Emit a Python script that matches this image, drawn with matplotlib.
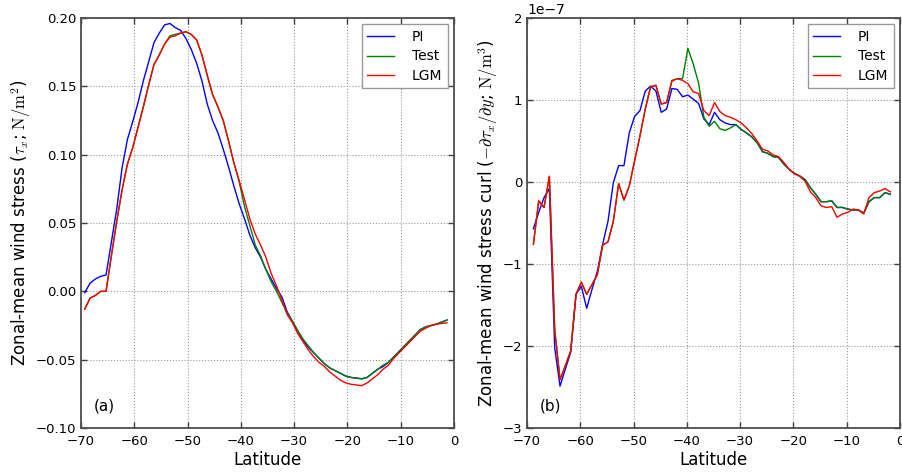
import numpy as np
import matplotlib
matplotlib.use("Agg")
import matplotlib.pyplot as plt

# ---------------- data ----------------
# latitude grid for wind stress (panel a) and curl (panel b, midpoints)
lat_a = np.arange(69) * 1.0 - 69.3
lat_b = np.arange(68) * 1.0 - 68.8

tau_pi = [-0.001, 0.006, 0.009, 0.011, 0.012, 0.036, 0.060, 0.090, 0.111, 0.124,
          0.138, 0.154, 0.168, 0.182, 0.189, 0.195, 0.196, 0.193, 0.191, 0.185,
          0.177, 0.167, 0.154, 0.137, 0.125, 0.116, 0.104, 0.091, 0.077, 0.064,
          0.053, 0.041, 0.032, 0.025, 0.016, 0.009, 0.002, -0.004, -0.015, -0.022,
          -0.029, -0.036, -0.041, -0.045, -0.049, -0.053, -0.056, -0.058, -0.060, -0.062,
          -0.063, -0.0635, -0.064, -0.063, -0.060, -0.057, -0.055, -0.052, -0.048, -0.044,
          -0.040, -0.036, -0.032, -0.028, -0.026, -0.025, -0.024, -0.0225, -0.021]

tau_test = [-0.013, -0.005, -0.003, 0.000, 0.000, 0.026, 0.051, 0.074, 0.093, 0.105,
            0.120, 0.135, 0.151, 0.166, 0.173, 0.181, 0.187, 0.188, 0.189, 0.190,
            0.188, 0.184, 0.173, 0.158, 0.144, 0.135, 0.125, 0.110, 0.094, 0.080,
            0.062, 0.048, 0.034, 0.026, 0.016, 0.007, 0.000, -0.008, -0.016, -0.022,
            -0.029, -0.035, -0.040, -0.045, -0.049, -0.053, -0.056, -0.058, -0.060, -0.062,
            -0.063, -0.0635, -0.064, -0.063, -0.060, -0.057, -0.054, -0.052, -0.048, -0.044,
            -0.040, -0.036, -0.032, -0.028, -0.026, -0.025, -0.024, -0.0225, -0.021]

tau_lgm = [-0.013, -0.005, -0.003, 0.000, 0.000, 0.026, 0.051, 0.074, 0.093, 0.105,
           0.120, 0.135, 0.151, 0.166, 0.173, 0.181, 0.186, 0.187, 0.189, 0.190,
           0.188, 0.184, 0.173, 0.158, 0.144, 0.135, 0.125, 0.110, 0.094, 0.081,
           0.067, 0.053, 0.042, 0.034, 0.025, 0.013, 0.004, -0.006, -0.017, -0.023,
           -0.031, -0.037, -0.043, -0.048, -0.052, -0.055, -0.059, -0.062, -0.065, -0.067,
           -0.068, -0.0685, -0.069, -0.067, -0.064, -0.061, -0.057, -0.054, -0.049, -0.045,
           -0.041, -0.037, -0.033, -0.029, -0.027, -0.025, -0.024, -0.0235, -0.023]

# curl values in units of 1e-7 N/m^3
curl_pi = [-0.57, -0.37, -0.19, -0.08, -2.02, -2.49, -2.28, -2.08, -1.37, -1.27,
           -1.54, -1.31, -1.09, -0.76, -0.48, -0.01, 0.20, 0.20, 0.60, 0.80,
           0.87, 1.11, 1.17, 1.11, 0.85, 0.89, 1.14, 1.13, 1.04, 1.06,
           1.01, 0.96, 0.77, 0.70, 0.85, 0.76, 0.72, 0.70, 0.70, 0.64,
           0.60, 0.55, 0.48, 0.37, 0.35, 0.31, 0.30, 0.22, 0.155, 0.106,
           0.073, 0.03, -0.07, -0.15, -0.24, -0.24, -0.23, -0.31, -0.31, -0.33,
           -0.34, -0.34, -0.38, -0.24, -0.19, -0.19, -0.13, -0.15]

curl_test = [-0.76, -0.23, -0.31, 0.07, -1.80, -2.41, -2.24, -2.06, -1.37, -1.22,
             -1.37, -1.25, -1.13, -0.77, -0.73, -0.48, -0.02, -0.22, -0.05, 0.26,
             0.56, 0.89, 1.16, 1.18, 0.95, 0.97, 1.24, 1.26, 1.26, 1.63,
             1.44, 1.21, 0.79, 0.68, 0.74, 0.65, 0.63, 0.66, 0.70, 0.64,
             0.60, 0.55, 0.48, 0.37, 0.35, 0.31, 0.30, 0.22, 0.155, 0.106,
             0.073, 0.03, -0.07, -0.15, -0.24, -0.24, -0.23, -0.31, -0.31, -0.33,
             -0.34, -0.34, -0.38, -0.24, -0.19, -0.19, -0.13, -0.15]

curl_lgm = [-0.76, -0.23, -0.31, 0.07, -1.80, -2.41, -2.24, -2.06, -1.37, -1.22,
            -1.37, -1.25, -1.13, -0.77, -0.73, -0.48, -0.02, -0.22, -0.05, 0.26,
            0.56, 0.89, 1.16, 1.18, 0.95, 0.97, 1.23, 1.26, 1.24, 1.20,
            1.10, 1.08, 0.87, 0.81, 0.97, 0.86, 0.81, 0.79, 0.76, 0.72,
            0.66, 0.59, 0.50, 0.40, 0.38, 0.33, 0.31, 0.24, 0.155, 0.10,
            0.07, 0.01, -0.12, -0.19, -0.29, -0.31, -0.30, -0.43, -0.39, -0.37,
            -0.33, -0.34, -0.39, -0.19, -0.13, -0.11, -0.08, -0.12]

labels = ["PI", "Test", "LGM"]
colors = ["b", "g", "r"]
scale_b = 1e-7

# ---------------- plotting ----------------
plt.rcParams["mathtext.fontset"] = "cm"
plt.rcParams["font.family"] = ["DejaVu Sans"]

fig = plt.figure(figsize=(9.03, 4.73), dpi=100)
ax1 = fig.add_axes([0.0897, 0.0951, 0.413, 0.8668])
ax2 = fig.add_axes([0.5836, 0.0951, 0.413, 0.8668])

for y, lab, c in zip([tau_pi, tau_test, tau_lgm], labels, colors):
    ax1.plot(lat_a, y, color=c, lw=1.0, label=lab)
for y, lab, c in zip([curl_pi, curl_test, curl_lgm], labels, colors):
    ax2.plot(lat_b, np.array(y) * scale_b, color=c, lw=1.0, label=lab)

ax1.set_xlim(-70, 0)
ax1.set_ylim(-0.10, 0.20)
ax1.set_yticks(np.arange(-0.10, 0.201, 0.05))
ax1.set_yticklabels(["\u22120.10", "\u22120.05", "0.00", "0.05", "0.10", "0.15", "0.20"])
ax2.set_xlim(-70, 0)
ax2.set_ylim(-3e-7, 2e-7)

for ax, tag in [(ax1, "(a)"), (ax2, "(b)")]:
    ax.set_xticks(np.arange(-70, 1, 10))
    ax.grid(True, ls=":", color="0.6", lw=0.8)
    ax.tick_params(direction="in", top=True, right=True, labelsize=9.5,
                   length=4, width=1, color="0.25")
    ax.tick_params(axis="x", pad=5)
    for s in ax.spines.values():
        s.set_color("0.3")
        s.set_linewidth(1.3)
    ax.set_xlabel("Latitude", fontsize=12, labelpad=2)
    ax.text(0.035, 0.035, tag, transform=ax.transAxes, fontsize=11,
            ha="left", va="bottom")
    leg = ax.legend(loc="upper right", fontsize=10, handlelength=1.9,
                    borderpad=0.4, labelspacing=0.4, fancybox=False,
                    framealpha=1.0, borderaxespad=0.45, handletextpad=1.3)
    leg.get_frame().set_edgecolor("0.6")
    leg.get_frame().set_linewidth(1.0)

ax1.set_ylabel(r"Zonal-mean wind stress ($\tau_x$; $\mathrm{N/m^2}$)", fontsize=12,
               labelpad=2)
ax2.set_ylabel(r"Zonal-mean wind stress curl ($-\partial\tau_x/\partial y$; $\mathrm{N/m^3}$)",
               fontsize=12, labelpad=2)
ax2.yaxis.get_offset_text().set_fontsize(10)

fig.savefig("out.png", dpi=100)
